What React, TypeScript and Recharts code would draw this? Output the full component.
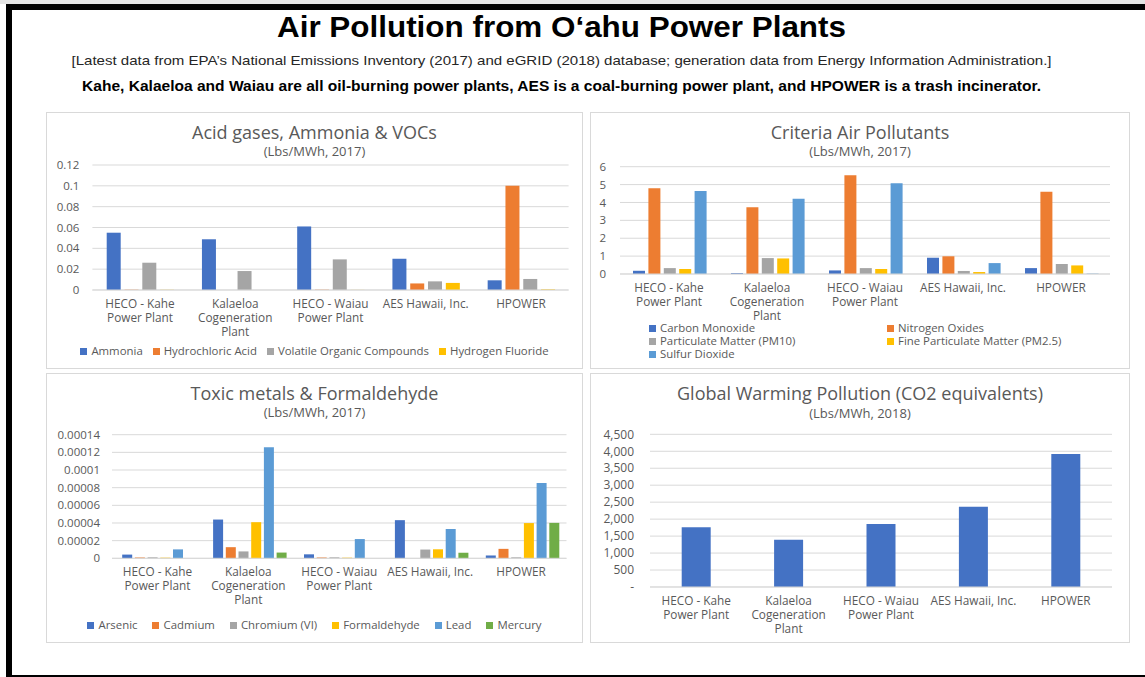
import React from "react";
import { BarChart, Bar, XAxis, YAxis, CartesianGrid } from "recharts";

const plants = [
  "HECO - Kahe Power Plant",
  "Kalaeloa Cogeneration Plant",
  "HECO - Waiau Power Plant",
  "AES Hawaii, Inc.",
  "HPOWER",
];
const plantTickLines = [
  ["HECO - Kahe", "Power Plant"],
  ["Kalaeloa", "Cogeneration", "Plant"],
  ["HECO - Waiau", "Power Plant"],
  ["AES Hawaii, Inc."],
  ["HPOWER"],
];

// Acid gases, Ammonia & VOCs (Lbs/MWh, 2017)
const acidNames = ["Ammonia", "Hydrochloric Acid", "Volatile Organic Compounds", "Hydrogen Fluoride"];
const ammonia = [0.055, 0.0487, 0.061, 0.03, 0.0093];
const hydrochloricAcid = [0.0003, 0, 0.0003, 0.0063, 0.1];
const volatileOrganics = [0.0262, 0.0182, 0.0294, 0.0083, 0.0106];
const hydrogenFluoride = [0.0002, 0, 0.0001, 0.0068, 0.0006];
const acidTicks = [0, 0.02, 0.04, 0.06, 0.08, 0.1, 0.12];

// Criteria Air Pollutants (Lbs/MWh, 2017)
const criteriaNames = [
  "Carbon Monoxide",
  "Nitrogen Oxides",
  "Particulate Matter (PM10)",
  "Fine Particulate Matter (PM2.5)",
  "Sulfur Dioxide",
];
const carbonMonoxide = [0.18, 0.05, 0.2, 0.91, 0.33];
const nitrogenOxides = [4.79, 3.73, 5.52, 0.99, 4.6];
const pm10 = [0.33, 0.89, 0.33, 0.17, 0.56];
const pm25 = [0.28, 0.87, 0.28, 0.11, 0.48];
const sulfurDioxide = [4.64, 4.21, 5.07, 0.61, 0.02];
const criteriaTicks = [0, 1, 2, 3, 4, 5, 6];

// Toxic metals & Formaldehyde (Lbs/MWh, 2017)
const toxicNames = ["Arsenic", "Cadmium", "Chromium (VI)", "Formaldehyde", "Lead", "Mercury"];
const arsenic = [0.0000042, 0.0000439, 0.0000045, 0.0000432, 0.0000032];
const cadmium = [0.0000009, 0.0000126, 0.0000009, 0, 0.0000107];
const chromium = [0.0000011, 0.0000078, 0.0000011, 0.0000099, 0.0000011];
const formaldehyde = [0.0000007, 0.0000409, 0.0000007, 0.0000102, 0.0000399];
const lead = [0.0000101, 0.0001257, 0.0000218, 0.0000332, 0.0000853];
const mercury = [0, 0.0000065, 0, 0.0000063, 0.0000401];
const toxicTicks = [0, 0.00002, 0.00004, 0.00006, 0.00008, 0.0001, 0.00012, 0.00014];

// Global Warming Pollution (Lbs/MWh, 2018)
const co2Names = ["CO2 equivalents"];
const co2Equivalents = [1759, 1395, 1857, 2368, 3920];
const co2Ticks = [0, 500, 1000, 1500, 2000, 2500, 3000, 3500, 4000, 4500];

const palette = ["#4472C4", "#ED7D31", "#A5A5A5", "#FFC000", "#5B9BD5", "#70AD47"];
const TEXT = "#595959";
const GRID = "#d9d9d9";
const FONT = "'Open Sans', sans-serif";

function buildRows(names: string[], values: number[][]) {
  return plants.map((plant, i) => {
    const row: Record<string, any> = { plant };
    names.forEach((n, k) => (row[n] = values[k][i]));
    return row;
  });
}

function PlantTick({ x, y, payload }: any) {
  const idx = plants.indexOf(payload.value);
  const lines = idx >= 0 ? plantTickLines[idx] : [String(payload.value)];
  return (
    <text x={x} y={y + 18} textAnchor="middle" fill={TEXT} fontSize={11.8} fontFamily={FONT}>
      {lines.map((line, i) => (
        <tspan key={i} x={x} dy={i === 0 ? 0 : 14}>
          {line}
        </tspan>
      ))}
    </text>
  );
}

const plainNumber = (v: number) => String(parseFloat(Number(v).toFixed(8)));
const accounting = (v: number) => (v === 0 ? "-" : Number(v).toLocaleString("en-US"));

type PanelProps = {
  left: number;
  top: number;
  width: number;
  height: number;
  title: string;
  subtitle: string;
  titleY: number;
  subtitleY: number;
  names: string[];
  values: number[][];
  colors: string[];
  ticks: number[];
  format: (v: number) => string;
  yFontSize: number;
  plotLeft: number;
  plotRight: number;
  plotTop: number;
  plotBottom: number;
  tickGap: number;
  sideGap: number;
  barGap: number;
  legend?: React.ReactNode;
};

function Panel(p: PanelProps) {
  const rows = buildRows(p.names, p.values);
  const yAxisWidth = p.plotLeft - p.left;
  const marginTop = p.plotTop - p.top;
  const marginRight = p.left + p.width - p.plotRight;
  const xAxisHeight = p.top + p.height - p.plotBottom;
  return (
    <>
      <div
        style={{
          position: "absolute",
          left: p.left,
          top: p.top,
          width: p.width,
          height: p.height,
          boxSizing: "border-box",
          border: "1px solid #d9d9d9",
          background: "#fff",
        }}
      />
      <div
        style={{
          position: "absolute",
          left: p.left,
          width: p.width,
          top: p.titleY - 9,
          height: 18,
          lineHeight: "18px",
          textAlign: "center",
          fontFamily: FONT,
          fontSize: 18,
          color: TEXT,
          whiteSpace: "nowrap",
        }}
      >
        {p.title}
      </div>
      <div
        style={{
          position: "absolute",
          left: p.left,
          width: p.width,
          top: p.subtitleY - 7,
          height: 14,
          lineHeight: "14px",
          textAlign: "center",
          fontFamily: FONT,
          fontSize: 13,
          color: TEXT,
        }}
      >
        {p.subtitle}
      </div>
      <div style={{ position: "absolute", left: p.left, top: p.top, fontFamily: FONT }}>
        <BarChart
          width={p.width}
          height={p.height}
          data={rows}
          margin={{ top: marginTop, right: marginRight, bottom: 0, left: 0 }}
          barCategoryGap={p.sideGap}
          barGap={p.barGap}
        >
          <CartesianGrid vertical={false} stroke={GRID} />
          <XAxis
            dataKey="plant"
            interval={0}
            height={xAxisHeight}
            tickLine={false}
            tickSize={0}
            tickMargin={0}
            axisLine={{ stroke: GRID }}
            tick={<PlantTick />}
          />
          <YAxis
            width={yAxisWidth}
            domain={[0, p.ticks[p.ticks.length - 1]]}
            ticks={p.ticks}
            interval={0}
            axisLine={false}
            tickLine={false}
            tickSize={0}
            tickMargin={p.tickGap}
            tickFormatter={p.format}
            tick={{ fill: TEXT, fontSize: p.yFontSize, fontFamily: FONT }}
          />
          {p.names.map((n, k) => (
            <Bar key={n} dataKey={n} fill={p.colors[k]} isAnimationActive={false} />
          ))}
        </BarChart>
      </div>
      {p.legend}
    </>
  );
}

function LegendItem({ name, color }: { name: string; color: string }) {
  return (
    <span style={{ display: "inline-flex", alignItems: "center", whiteSpace: "nowrap", lineHeight: "12px" }}>
      <span style={{ width: 7, height: 7, background: color, marginRight: 4, display: "inline-block" }} />
      {name}
    </span>
  );
}

function RowLegend({ names, colors, left, width, y, gap }: any) {
  return (
    <div
      style={{
        position: "absolute",
        left,
        width,
        top: y - 6,
        height: 12,
        display: "flex",
        justifyContent: "center",
        alignItems: "center",
        gap,
        fontFamily: FONT,
        fontSize: 11.4,
        color: TEXT,
      }}
    >
      {names.map((n: string, k: number) => (
        <LegendItem key={n} name={n} color={colors[k]} />
      ))}
    </div>
  );
}

function GridLegend({ names, colors, cols, rowsY }: any) {
  return (
    <>
      {names.map((n: string, k: number) => (
        <div
          key={n}
          style={{
            position: "absolute",
            left: cols[k % 2],
            top: rowsY[Math.floor(k / 2)] - 6,
            height: 12,
            display: "flex",
            alignItems: "center",
            fontFamily: FONT,
            fontSize: 11.4,
            color: TEXT,
          }}
        >
          <LegendItem name={n} color={colors[k]} />
        </div>
      ))}
    </>
  );
}

export default function App() {
  const acidColors = palette.slice(0, 4);
  const criteriaColors = palette.slice(0, 5);
  const toxicColors = palette.slice(0, 6);
  return (
    <div style={{ position: "absolute", left: 0, top: 0, width: 1145, height: 677, background: "#fff", overflow: "hidden" }}>
      <div style={{ position: "absolute", left: 0, top: 0, width: 1145, height: 4, background: "#e4e4e4" }} />
      <div
        style={{
          position: "absolute",
          left: 6,
          top: 4,
          width: 1139,
          height: 673,
          boxSizing: "border-box",
          borderLeft: "6px solid #000",
          borderTop: "6px solid #000",
          borderBottom: "2px solid #000",
        }}
      />
      <svg width={1145} height={100} style={{ position: "absolute", left: 0, top: 0 }}>
        <text
          x={561.5}
          y={37}
          textAnchor="middle"
          fontFamily="'Liberation Sans', Arial, sans-serif"
          fontWeight={700}
          fontSize={29}
          textLength={569}
          lengthAdjust="spacingAndGlyphs"
          fill="#000"
        >
          Air Pollution from O‘ahu Power Plants
        </text>
        <text
          x={561.5}
          y={64.5}
          textAnchor="middle"
          fontFamily="'Liberation Sans', Arial, sans-serif"
          fontSize={13}
          textLength={980}
          lengthAdjust="spacingAndGlyphs"
          fill="#262626"
        >
          [Latest data from EPA’s National Emissions Inventory (2017) and eGRID (2018) database; generation data from Energy Information Administration.]
        </text>
        <text
          x={561.5}
          y={91}
          textAnchor="middle"
          fontFamily="'Liberation Sans', Arial, sans-serif"
          fontWeight={700}
          fontSize={14}
          textLength={959}
          lengthAdjust="spacingAndGlyphs"
          fill="#000"
        >
          Kahe, Kalaeloa and Waiau are all oil-burning power plants, AES is a coal-burning power plant, and HPOWER is a trash incinerator.
        </text>
      </svg>

      <Panel
        left={46}
        top={112}
        width={537}
        height={257}
        title="Acid gases, Ammonia & VOCs"
        subtitle="(Lbs/MWh, 2017)"
        titleY={132}
        subtitleY={151}
        names={acidNames}
        values={[ammonia, hydrochloricAcid, volatileOrganics, hydrogenFluoride]}
        colors={acidColors}
        ticks={acidTicks}
        format={plainNumber}
        yFontSize={11.5}
        plotLeft={92.4}
        plotRight={568.6}
        plotTop={165}
        plotBottom={290}
        tickGap={13}
        sideGap={14.3}
        barGap={3.8}
        legend={<RowLegend names={acidNames} colors={acidColors} left={46} width={537} y={351} gap={10} />}
      />

      <Panel
        left={590}
        top={112}
        width={540}
        height={257}
        title="Criteria Air Pollutants"
        subtitle="(Lbs/MWh, 2017)"
        titleY={132}
        subtitleY={151}
        names={criteriaNames}
        values={[carbonMonoxide, nitrogenOxides, pm10, pm25, sulfurDioxide]}
        colors={criteriaColors}
        ticks={criteriaTicks}
        format={plainNumber}
        yFontSize={11.5}
        plotLeft={620}
        plotRight={1110}
        plotTop={166.7}
        plotBottom={274}
        tickGap={14}
        sideGap={13}
        barGap={3.4}
        legend={
          <GridLegend names={criteriaNames} colors={criteriaColors} cols={[649, 887]} rowsY={[328, 341, 354]} />
        }
      />

      <Panel
        left={46}
        top={373}
        width={537}
        height={270}
        title="Toxic metals & Formaldehyde"
        subtitle="(Lbs/MWh, 2017)"
        titleY={393}
        subtitleY={412}
        names={toxicNames}
        values={[arsenic, cadmium, chromium, formaldehyde, lead, mercury]}
        colors={toxicColors}
        ticks={toxicTicks}
        format={plainNumber}
        yFontSize={11.5}
        plotLeft={112}
        plotRight={566.5}
        plotTop={434.7}
        plotBottom={558.3}
        tickGap={12}
        sideGap={10.2}
        barGap={2.7}
        legend={<RowLegend names={toxicNames} colors={toxicColors} left={46} width={537} y={625} gap={15} />}
      />

      <Panel
        left={590}
        top={373}
        width={540}
        height={270}
        title="Global Warming Pollution (CO2 equivalents)"
        subtitle="(Lbs/MWh, 2018)"
        titleY={393}
        subtitleY={413}
        names={co2Names}
        values={[co2Equivalents]}
        colors={palette.slice(0, 1)}
        ticks={co2Ticks}
        format={accounting}
        yFontSize={12}
        plotLeft={650}
        plotRight={1112}
        plotTop={434.3}
        plotBottom={587}
        tickGap={16}
        sideGap={31.7}
        barGap={0}
      />
    </div>
  );
}
